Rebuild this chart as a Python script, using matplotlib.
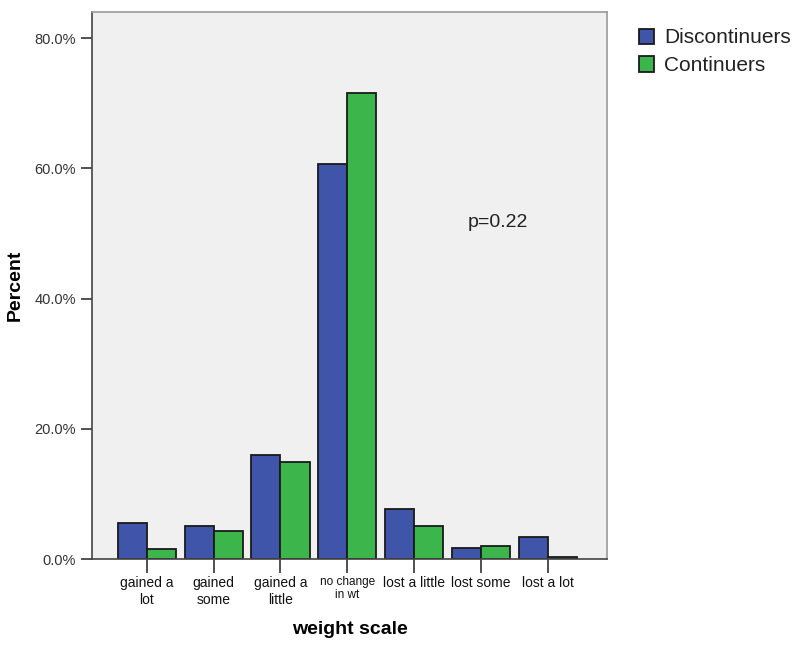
import numpy as np
import matplotlib.pyplot as plt
from matplotlib.ticker import PercentFormatter

plt.rcParams['font.family'] = ['Liberation Sans', 'DejaVu Sans']

#categories and values
categories = ['gained a\nlot', 'gained\nsome', 'gained a\nlittle', 'no change\nin wt',
              'lost a little', 'lost some', 'lost a lot']
discontinuers = [5.6, 5.1, 16.0, 60.6, 7.7, 1.7, 3.4]
continuers = [1.6, 4.3, 14.9, 71.5, 5.1, 2.0, 0.35]

blue = '#3f55a9'
green = '#3cb64a'

fig = plt.figure(figsize=(8, 6.47), dpi=100)
ax = fig.add_axes([0.115, 0.136, 0.644, 0.8455])
ax.set_facecolor('#f0f0f0')

x = np.arange(len(categories))
w = 0.435
ax.bar(x - w/2, discontinuers, w, color=blue, edgecolor='#1a1a1a', linewidth=1.3, label='Discontinuers')
ax.bar(x + w/2, continuers, w, color=green, edgecolor='#1a1a1a', linewidth=1.3, label='Continuers')

ax.set_xlim(-0.82, 6.89)
ax.set_ylim(0, 84)
ax.set_yticks([0, 20, 40, 60, 80])
ax.yaxis.set_major_formatter(PercentFormatter(decimals=1))
ax.set_xticks(x)
ax.set_xticklabels(categories)
for lbl in ax.get_xticklabels():
    if lbl.get_text().startswith('no change'):
        lbl.set_fontsize(8.5)
        lbl.set_linespacing(1.1)
    else:
        lbl.set_fontsize(10)
        lbl.set_linespacing(1.3)
ax.tick_params(axis='y', labelsize=10.5, length=8, width=1.2, color='#333333', labelcolor='#333333')
ax.tick_params(axis='x', length=10, width=1.2, color='#333333', labelcolor='#111111', pad=2)

for s in ['top', 'right']:
    ax.spines[s].set_color('#9a9a9a')
    ax.spines[s].set_linewidth(1.2)
for s in ['left', 'bottom']:
    ax.spines[s].set_color('#444444')
    ax.spines[s].set_linewidth(1.2)

ax.set_ylabel('Percent', fontsize=14, fontweight='bold', labelpad=8)
ax.set_xlabel('weight scale', fontsize=14, fontweight='bold', labelpad=10)

ax.text(5.26, 51.6, 'p=0.22', fontsize=14, color='#222222', ha='center', va='center')

fig.legend(loc='upper left', bbox_to_anchor=(0.775, 0.985), frameon=False, fontsize=15,
           handlelength=0.75, handleheight=0.75, handletextpad=0.45, labelspacing=0.42,
           labelcolor='#222222')

fig.savefig('out.png', dpi=100, facecolor='white')
